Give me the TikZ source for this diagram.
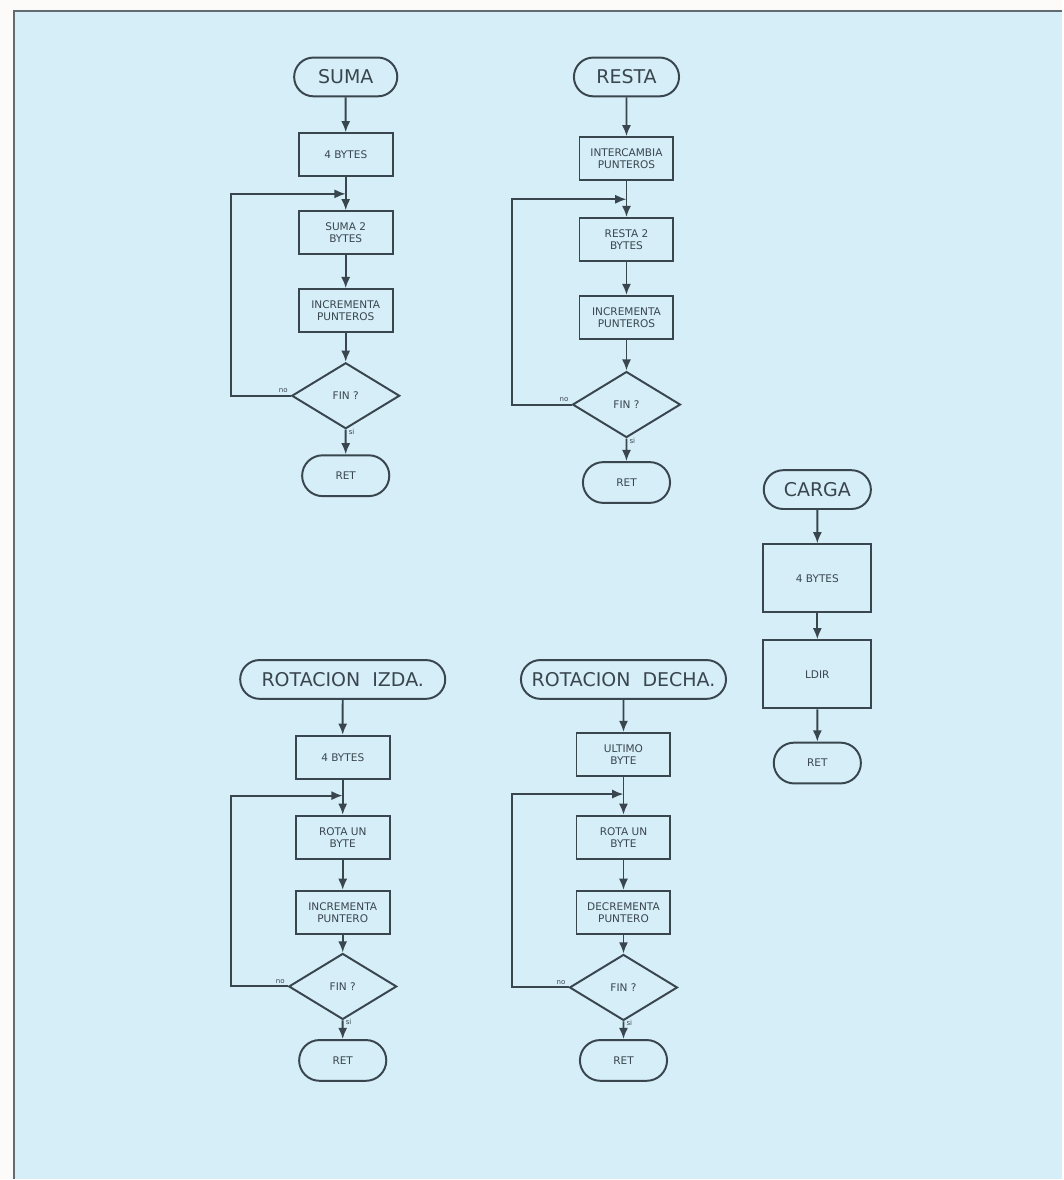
\documentclass[tikz,border=0pt]{standalone}
\usepackage{xcolor}
\usepackage{fontspec}
\setmainfont{DejaVu Sans}
\usepackage{tikz}
\usetikzlibrary{calc, shapes.geometric, shapes.misc, arrows.meta, positioning}

\definecolor{paper}{HTML}{D5EEF8}
\definecolor{ink}{HTML}{3A464E}

\begin{document}
\begin{tikzpicture}[x=0.025cm, y=-0.025cm, >={Latex[length=8pt,width=6.5pt]},
			every node/.style={text=ink, align=center, inner sep=1pt},
			terminal/.style={draw=ink, line width=1.4pt, rounded rectangle, minimum height=0.97cm, font=\fontsize{13.5}{14}\selectfont},
			retnode/.style={terminal, minimum width=2.25cm, minimum height=1.02cm, font=\fontsize{7.5}{8}\selectfont},
			process/.style={draw=ink, line width=1.4pt, rectangle, minimum width=2.35cm, minimum height=1.08cm, font=\fontsize{7.5}{8.5}\selectfont, node distance={1.95cm}},
			decision/.style={draw=ink, line width=1.4pt, diamond, minimum width=2.7cm, minimum height=1.65cm, inner sep=0pt, font=\fontsize{7.5}{8}\selectfont},
			tag/.style={font=\fontsize{5}{6}\selectfont, inner sep=1.5pt},
			flow/.style={draw=ink, line width=1.4pt, ->}
			]
			\fill[white!97!brown] (0,0) rectangle (1063,1180);
			\fill[paper] (14,11) rectangle (1063,1180);
			\draw[ink!80, line width=1.4pt] (14,1180) -- (14,11) -- (1063,11);
			\useasboundingbox (0,0) rectangle (1063,1180);

			\node [terminal, minimum width=2.65cm](s0) at (346,77) {SUMA};
			\node [process](s1) [below of=s0, node distance=1.95cm] {4 BYTES};
			\node [process](s2) [below of=s1] {SUMA 2\\BYTES};
			\node [process](s3) [below of=s2] {INCREMENTA\\PUNTEROS};
			\node [decision](s4) [below of=s3, node distance=2.125cm] {FIN ?};
			\node [retnode](s5) [below of=s4, node distance=2cm] {RET};

			\node [terminal, minimum width=2.7cm](r0) at (627,77) {RESTA};
			\node [process](r1) [below of=r0, node distance=2.05cm] {INTERCAMBIA\\PUNTEROS};
			\node [process](r2) [below of=r1, node distance=2.02cm] {RESTA 2\\BYTES};
			\node [process](r3) [below of=r2] {INCREMENTA\\PUNTEROS};
			\node [decision](r4) [below of=r3, node distance=2.175cm] {FIN ?};
			\node [retnode](r5) [below of=r4, node distance=1.95cm] {RET};

			\node [terminal, minimum width=2.75cm](c0) at (818,490) {CARGA};
			\node [process, minimum width=2.7cm, minimum height=1.7cm](c1) [below of=c0, node distance=2.22cm] {4 BYTES};
			\node [process, minimum width=2.7cm, minimum height=1.7cm](c2) [below of=c1, node distance=2.4cm] {LDIR};
			\node [retnode](c3) [below of=c2, node distance=2.22cm] {RET};

			\node [terminal, minimum width=5.2cm](i0) at (343,680) {ROTACION \ IZDA.};
			\node [process](i1) [below of=i0] {4 BYTES};
			\node [process](i2) [below of=i1, node distance=2cm] {ROTA UN\\BYTE};
			\node [process](i3) [below of=i2, node distance=1.88cm] {INCREMENTA\\PUNTERO};
			\node [decision](i4) [below of=i3, node distance=1.85cm] {FIN ?};
			\node [retnode](i5) [below of=i4, node distance=1.85cm] {RET};

			\node [terminal, minimum width=5.2cm](d0) at (624,680) {ROTACION \ DECHA.};
			\node [process](d1) [below of=d0, node distance=1.88cm] {ULTIMO\\BYTE};
			\node [process](d2) [below of=d1, node distance=2.07cm] {ROTA UN\\BYTE};
			\node [process](d3) [below of=d2, node distance=1.88cm] {DECREMENTA\\PUNTERO};
			\node [decision](d4) [below of=d3, node distance=1.875cm] {FIN ?};
			\node [retnode](d5) [below of=d4, node distance=1.825cm] {RET};

			\coordinate (sj) at ($(s1.south)!0.5!(s2.north)$);
			\coordinate (rj) at ($(r1.south)!0.5!(r2.north)$);
			\coordinate (ij) at ($(i1.south)!0.45!(i2.north)$);
			\coordinate (dj) at ($(d1.south)!0.45!(d2.north)$);

			\draw[flow] (s0) -- (s1);
			\draw[flow] (s1) -- (s2);
			\draw[flow] (s2) -- (s3);
			\draw[flow] (s3) -- (s4);
			\draw[flow] (s4) -- (s5) node[tag, pos=0.1, right] {si};
			\draw[flow] (s4.west) node[tag, above left] {no} -- ++(-60,0) |- (sj);

			\draw[flow] (r0) -- (r1);
			\draw[flow] (r1) -- (r2);
			\draw[flow] (r2) -- (r3);
			\draw[flow] (r3) -- (r4);
			\draw[flow] (r4) -- (r5) node[tag, pos=0.1, right] {si};
			\draw[flow] (r4.west) node[tag, above left] {no} -- ++(-60,0) |- (rj);

			\draw[flow] (c0) -- (c1);
			\draw[flow] (c1) -- (c2);
			\draw[flow] (c2) -- (c3);

			\draw[flow] (i0) -- (i1);
			\draw[flow] (i1) -- (i2);
			\draw[flow] (i2) -- (i3);
			\draw[flow] (i3) -- (i4);
			\draw[flow] (i4) -- (i5) node[tag, pos=0.1, right] {si};
			\draw[flow] (i4.west) node[tag, above left] {no} -- ++(-57,0) |- (ij);

			\draw[flow] (d0) -- (d1);
			\draw[flow] (d1) -- (d2);
			\draw[flow] (d2) -- (d3);
			\draw[flow] (d3) -- (d4);
			\draw[flow] (d4) -- (d5) node[tag, pos=0.1, right] {si};
			\draw[flow] (d4.west) node[tag, above left] {no} -- ++(-57,0) |- (dj);
		\end{tikzpicture}
\end{document}
